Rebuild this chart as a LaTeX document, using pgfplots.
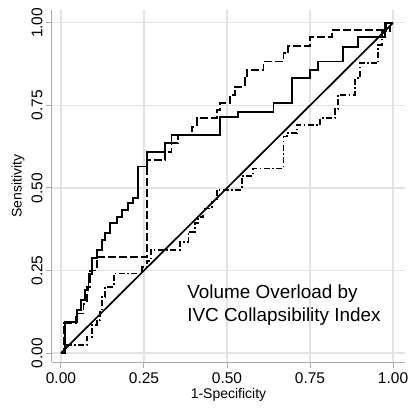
\documentclass[border=0pt]{standalone}
\usepackage{pgfplots}
\pgfplotsset{compat=1.18}
\usepackage{fontspec}
\setmainfont{Liberation Sans}
\begin{document}
\begin{tikzpicture}
\begin{axis}[
  at={(0,0)}, anchor=south west,
  scale only axis, width=353pt, height=352pt,
  xmin=-0.027, xmax=1.036, ymin=-0.027, ymax=1.039,
  axis x line*=bottom, axis y line*=left,
  axis line style={-, draw=gray!65, line width=1pt},
  xtick={0,0.25,0.5,0.75,1}, ytick={0,0.25,0.5,0.75,1},
  xticklabels={0.00,0.25,0.50,0.75,1.00},
  yticklabels={0.00,0.25,0.50,0.75,1.00},
  tick align=outside, major tick length=6pt,
  tick style={draw=gray!65, line width=1pt},
  grid=major, major grid style={draw=gray!22, line width=1.2pt},
  ticklabel style={font=\fontsize{15.5}{18}\selectfont},
  xticklabel style={yshift=-1pt},
  yticklabel style={rotate=90, anchor=south},
  xlabel={1-Specificity}, ylabel={Sensitivity},
  xlabel style={yshift=2pt},
  label style={font=\fontsize{14}{16}\selectfont},
  clip=false,
]
\addplot[black, line width=1.7pt] coordinates {(0,0) (1,1)};
% solid
\addplot[black, line width=1.9pt] coordinates {
(0,0) (0.013,0) (0.013,0.095) (0.048,0.095) (0.048,0.13) (0.06,0.13) (0.06,0.16)
(0.073,0.16) (0.073,0.19) (0.083,0.19) (0.083,0.24) (0.093,0.24) (0.093,0.287)
(0.108,0.287) (0.108,0.312) (0.123,0.312) (0.123,0.342) (0.133,0.342) (0.133,0.363)
(0.148,0.363) (0.148,0.393) (0.168,0.393) (0.168,0.413) (0.183,0.413) (0.183,0.433)
(0.203,0.433) (0.203,0.454) (0.218,0.454) (0.218,0.469) (0.233,0.469) (0.233,0.565)
(0.258,0.565) (0.258,0.61) (0.313,0.61) (0.313,0.635) (0.333,0.635) (0.333,0.66)
(0.479,0.66) (0.479,0.716) (0.534,0.716) (0.534,0.731) (0.64,0.731) (0.64,0.757)
(0.695,0.757) (0.695,0.832) (0.75,0.832) (0.75,0.858) (0.775,0.858) (0.775,0.883)
(0.85,0.883) (0.85,0.928) (0.895,0.928) (0.895,0.958) (0.975,0.958) (0.975,1) (1,1)};
% dashed
\addplot[black, line width=1.9pt, dash pattern=on 8pt off 3pt] coordinates {
(0,0) (0.01,0) (0.01,0.09) (0.045,0.09) (0.045,0.12) (0.068,0.12) (0.068,0.15)
(0.078,0.15) (0.078,0.2) (0.088,0.2) (0.088,0.25) (0.108,0.25) (0.108,0.29)
(0.258,0.29) (0.258,0.585) (0.313,0.585) (0.313,0.61) (0.333,0.61) (0.333,0.635)
(0.353,0.635) (0.353,0.66) (0.394,0.66) (0.394,0.686) (0.409,0.686) (0.409,0.711)
(0.469,0.711) (0.469,0.737) (0.479,0.737) (0.479,0.757) (0.509,0.757) (0.509,0.782)
(0.524,0.782) (0.524,0.807) (0.554,0.807) (0.554,0.832) (0.559,0.832) (0.559,0.858)
(0.61,0.858) (0.61,0.883) (0.67,0.883) (0.67,0.908) (0.685,0.908) (0.685,0.93)
(0.75,0.93) (0.75,0.958) (0.815,0.958) (0.815,0.979) (0.978,0.979) (0.978,1) (1,1)};
% dash-dot
\addplot[black, line width=1.9pt, dash pattern=on 6pt off 2.5pt on 1.5pt off 2.5pt] coordinates {
(0,0) (0.012,0) (0.012,0.024) (0.078,0.024) (0.078,0.049) (0.093,0.049) (0.093,0.085)
(0.108,0.085) (0.108,0.1) (0.118,0.1) (0.118,0.125) (0.123,0.125) (0.123,0.17)
(0.133,0.17) (0.133,0.2) (0.159,0.2) (0.159,0.241) (0.244,0.241) (0.244,0.26)
(0.258,0.26) (0.258,0.28) (0.27,0.28) (0.27,0.312) (0.358,0.312) (0.358,0.337)
(0.384,0.337) (0.384,0.368) (0.404,0.368) (0.404,0.393) (0.414,0.393) (0.414,0.413)
(0.429,0.413) (0.429,0.438) (0.454,0.438) (0.454,0.459) (0.469,0.459) (0.469,0.494)
(0.544,0.494) (0.544,0.536) (0.579,0.536) (0.579,0.559) (0.67,0.559) (0.67,0.656)
(0.68,0.656) (0.68,0.666) (0.71,0.666) (0.71,0.691) (0.78,0.691) (0.78,0.711)
(0.825,0.711) (0.825,0.74) (0.835,0.74) (0.835,0.782) (0.886,0.782) (0.886,0.832)
(0.9,0.832) (0.9,0.878) (0.956,0.878) (0.956,0.933) (0.966,0.933) (0.966,0.974)
(0.99,0.974) (0.99,1) (1,1)};
\node[anchor=west, align=left, font=\fontsize{18.9}{23}\selectfont, inner sep=0pt]
  at (axis cs:0.38,0.145) {Volume Overload by\\IVC Collapsibility Index};
\end{axis}
\pgfresetboundingbox
\path (-52pt,-47pt) rectangle (356pt,362pt);
\end{tikzpicture}
\end{document}
